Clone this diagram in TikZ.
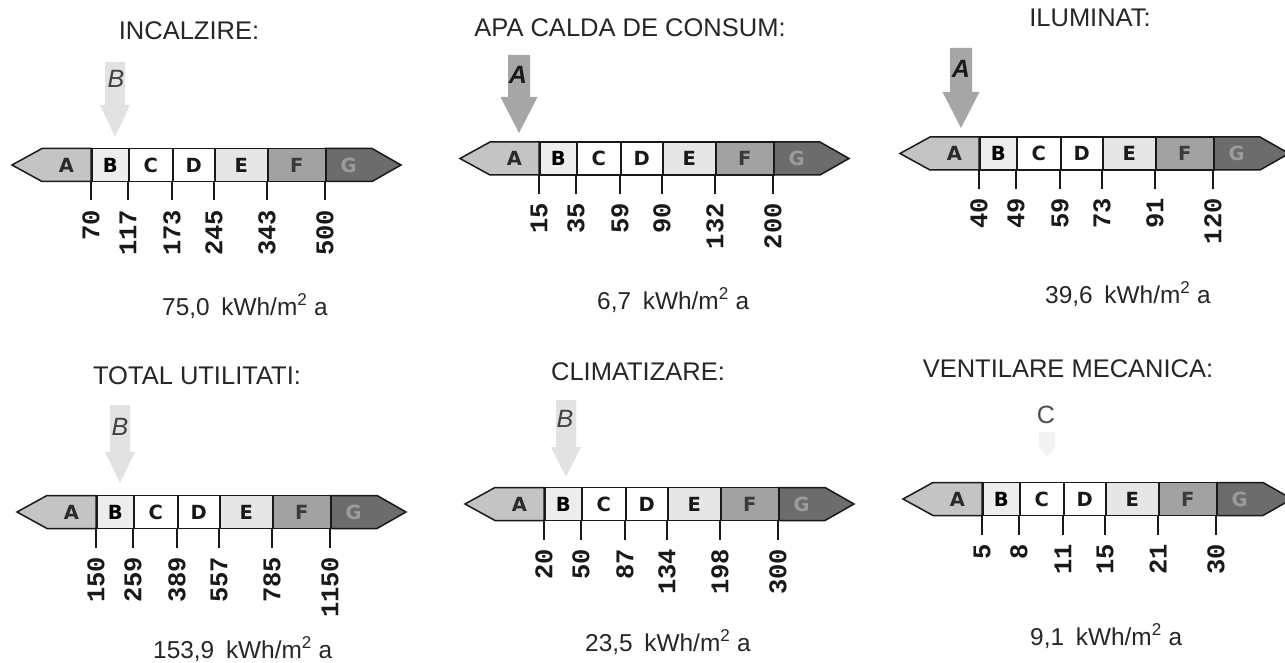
\documentclass[tikz,border=0pt]{standalone}
\usepackage{fontspec}
\setmainfont{Liberation Sans}
\newfontfamily\monof{Liberation Mono}
\newfontfamily\barf{DejaVu Sans}
\definecolor{fA}{HTML}{C4C4C4}
\definecolor{fB}{HTML}{EDEDED}
\definecolor{fE}{HTML}{E6E6E6}
\definecolor{fF}{HTML}{A2A2A2}
\definecolor{fG}{HTML}{6C6C6C}
\definecolor{tA}{HTML}{2A2A2A}
\definecolor{tF}{HTML}{3A3A3A}
\definecolor{tG}{HTML}{9C9C9C}
\definecolor{arrDark}{HTML}{A6A6A6}
\definecolor{arrLight}{HTML}{E2E2E2}
\definecolor{arrFaint}{HTML}{F3F3F3}
\tikzset{
  outline/.style={draw=black!90, line width=1.5pt, line join=miter},
  barletter/.style={inner sep=0pt, font=\barf\bfseries\fontsize{19.5}{19.5}\selectfont},
  seg/.style={outline, barletter, minimum height=33pt, anchor=west},
  num/.style={rotate=90, anchor=east, inner sep=0pt,
    font=\monof\bfseries\fontsize{25.5}{25.5}\selectfont, text=black!90},
  tickline/.style={line width=1.5pt, draw=black!90},
  title/.style={anchor=base, inner sep=0pt, font=\fontsize{25.5}{28}\selectfont, text=black!85},
  val/.style={anchor=base west, inner sep=0pt, font=\fontsize{24.4}{28}\selectfont, text=black!85},
  rating/.style={inner sep=0pt, font=\fontsize{25}{25}\selectfont},
}
% #1 name, #2 x of A/B divider, #3 y centre, #4 six numbers
\newcommand{\ebar}[4]{%
  \begin{scope}[shift={(#2,#3)}]
    \filldraw[outline, fill=fA] (-79,0) -- (-49,-16.5) -- (0,-16.5) -- (0,16.5) -- (-49,16.5) -- cycle;
    \node[barletter, text=tA] (#1-A) at (-24.5,0) {A};
    \filldraw[outline, fill=fG] (234,-16.5) -- (281,-16.5) -- (310,0) -- (281,16.5) -- (234,16.5) -- cycle;
    \node[barletter, text=tG] (#1-G) at (257.5,0) {G};
    \foreach \xa/\xb/\c/\tc/\l in {0/37/fB/black/B, 37/81/white/black!90/C, 81/123/white/black!90/D, 123/176/fE/black!90/E, 176/234/fF/tF/F}{
      \node[seg, fill=\c, text=\tc, minimum width={(\xb-\xa)*1pt}] (#1-\l) at (\xa,0) {\l};
    }
    \foreach \v [count=\i from 0] in {#4}{
      \pgfmathsetmacro\o{{0,37,81,123,176,234}[\i]}
      \coordinate (#1-t\i) at (\o,16.5);
      \draw[tickline] (#1-t\i) -- ++(0,19) coordinate (#1-e\i);
      \node[num] (#1-n\i) at ([yshift=-9pt]#1-e\i) {\v};
    }
  \end{scope}}
% #1 centre x, #2 top, #3 head start, #4 tip, #5 colour, #6 shaft half width, #7 head half width
\newcommand{\ratearrow}[7]{%
  \fill[#5] ({#1-#6},#2) -- ({#1+#6},#2) -- ({#1+#6},#3) -- ({#1+#7},#3) -- (#1,#4) -- ({#1-#7},#3) -- ({#1-#6},#3) -- cycle;}
\newcommand{\kwh}[1]{#1\hspace{5pt} kWh/m\textsuperscript{2} a}
\begin{document}
\begin{tikzpicture}[x=1pt,y=-1pt]
\useasboundingbox (0,0) rectangle (1285,663);
\fill[white] (0,0) rectangle (1285,663);

% titles
\node[title] (t1) at (189,40) {INCALZIRE:};
\node[title] (t2) at (630,37) {APA CALDA DE CONSUM:};
\node[title] (t3) at (1090,27) {ILUMINAT:};
\node[title] (t4) at (197,384) {TOTAL UTILITATI:};
\node[title] (t5) at (638,380) {CLIMATIZARE:};
\node[title] (t6) at (1068,377) {VENTILARE MECANICA:};

% arrows
\ratearrow{115}{62}{105}{137}{arrLight}{10}{15}
\ratearrow{519}{55}{97}{133}{arrDark}{11}{18.5}
\ratearrow{961}{48}{92}{128}{arrDark}{11}{18.5}
\ratearrow{120}{405}{452}{483}{arrLight}{10}{15}
\ratearrow{566}{400}{447}{477}{arrLight}{10}{15}
\ratearrow{1047}{432}{445}{457}{arrFaint}{8}{10}

% rating letters
\node[rating, font=\itshape\fontsize{25}{25}\selectfont, text=black!75] (r1) at (116,79) {B};
\node[rating, font=\bfseries\itshape\fontsize{25}{25}\selectfont, text=black!90] (r2) at (518,75) {A};
\node[rating, font=\bfseries\itshape\fontsize{25}{25}\selectfont, text=black!90] (r3) at (961,69) {A};
\node[rating, font=\itshape\fontsize{25}{25}\selectfont, text=black!75] (r4) at (120,427) {B};
\node[rating, font=\itshape\fontsize{25}{25}\selectfont, text=black!75] (r5) at (565,419) {B};
\node[rating, text=black!70] (r6) at (1046,415) {C};

% bars
\ebar{p1}{91}{165}{70,117,173,245,343,500}
\ebar{p2}{539}{158.5}{15,35,59,90,132,200}
\ebar{p3}{979}{153.5}{40,49,59,73,91,120}
\ebar{p4}{96}{512}{150,259,389,557,785,1150}
\ebar{p5}{544}{504}{20,50,87,134,198,300}
\ebar{p6}{982}{499}{5,8,11,15,21,30}

% values
\node[val] (v1) at (162,315) {\kwh{75,0}};
\node[val] (v2) at (597,309) {\kwh{6,7}};
\node[val] (v3) at (1045,303) {\kwh{39,6}};
\node[val] (v4) at (153,658) {\kwh{153,9}};
\node[val] (v5) at (585,651) {\kwh{23,5}};
\node[val] (v6) at (1030,645) {\kwh{9,1}};
\end{tikzpicture}
\end{document}
